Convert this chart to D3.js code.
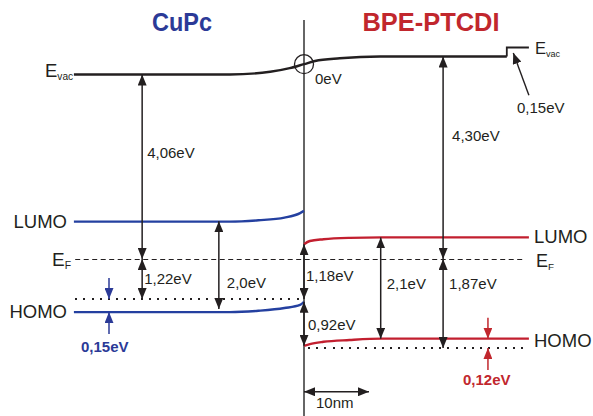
<!DOCTYPE html>
<html>
<head>
<meta charset="utf-8">
<script src="https://cdn.jsdelivr.net/npm/d3@7"></script>
<style>
  body { margin: 0; background: #fff; }
  text { font-family: "Liberation Sans", Arial, sans-serif; fill: #231f20; }
</style>
</head>
<body>
<div id="chart"></div>
<script>
// Energy level alignment at the CuPc / BPE-PTCDI interface
// x: distance from interface (nm), y: schematic energy relative to E_F (eV)

// vacuum level
const evacX = [-35.4, -11.4, -5.2, -2.2, 0, 1.7, 5.5, 11.7, 31.2];
const evacE = [4.10, 4.10, 4.16, 4.24, 4.33, 4.40, 4.46, 4.50, 4.50];
const evacStepX = [31.2, 31.2, 34.6];
const evacStepE = [4.50, 4.70, 4.70];

// CuPc levels (left)
const cupcX = [-35.4, -11.4, -7, -3, -0.6, 0];
const cupcLumo = [0.83, 0.83, 0.86, 0.92, 1.02, 1.07];
const cupcHomo = [-1.18, -1.18, -1.15, -1.09, -1.02, -0.95];

// BPE-PTCDI levels (right)
const bpeX = [0, 0.9, 3, 7, 12, 34.6];
const bpeLumo = [0.33, 0.40, 0.44, 0.47, 0.48, 0.48];
const bpeHomo = [-1.93, -1.89, -1.84, -1.80, -1.77, -1.77];

// reference lines
const fermiE = 0;
const cupcDotE = -0.89;
const bpeDotE = -1.98;

// double arrows with their energy gaps
const gapLabels = ["4,06eV", "1,22eV", "2,0eV", "1,18eV", "0,92eV", "2,1eV", "4,30eV", "1,87eV"];
const gapX = [-24.9, -24.9, -13.1, 0, 0, 11.8, 21.4, 21.4];
const gapTop = [4.10, 0, 0.84, 0.33, -0.95, 0.48, 4.50, 0];
const gapBottom = [0, -0.89, -1.11, -0.89, -1.93, -1.77, 0, -1.98];

// HOMO shifts (band bending)
const shiftLabels = ["0,15eV", "0,12eV"];
const shiftX = [-30.0, 28.3];
const shiftUpper = [-0.89, -1.77];
const shiftLower = [-1.18, -1.98];

const W = 593, H = 416;
const black = "#231f20", blue = "#2b3a97", red = "#c1272d";
const lineBlue = "#2440a0", lineRed = "#c21f2f";

const svg = d3.select("#chart").append("svg")
    .attr("width", W).attr("height", H)
    .style("background-color", "#ffffff");

// scales: 10 nm -> 65 px, 1 eV -> 45 px (schematic)
const x = d3.scaleLinear().domain([0, 10]).range([304, 369]);
const y = d3.scaleLinear().domain([0, 4]).range([259, 79]);

// arrow markers
const defs = svg.append("defs");
[["k", black], ["b", blue], ["r", red]].forEach(([id, col]) => {
    defs.append("marker")
        .attr("id", "ah-" + id)
        .attr("viewBox", "0 0 11 9")
        .attr("refX", 11).attr("refY", 4.5)
        .attr("markerWidth", 11).attr("markerHeight", 9)
        .attr("markerUnits", "userSpaceOnUse")
        .attr("orient", "auto-start-reverse")
        .append("path")
        .attr("d", "M0,0 L11,4.5 L0,9 Z")
        .attr("fill", col);
});

const line = d3.line().x(d => x(d[0])).y(d => y(d[1])).curve(d3.curveMonotoneX);
const straight = d3.line().x(d => x(d[0])).y(d => y(d[1]));

// titles
svg.append("text").attr("x", 182).attr("y", 31)
    .attr("text-anchor", "middle")
    .attr("font-size", 26).attr("font-weight", "bold")
    .attr("textLength", 60).attr("lengthAdjust", "spacingAndGlyphs")
    .style("fill", blue).text("CuPc");
svg.append("text").attr("x", 431).attr("y", 31)
    .attr("text-anchor", "middle")
    .attr("font-size", 26).attr("font-weight", "bold")
    .attr("textLength", 137).attr("lengthAdjust", "spacingAndGlyphs")
    .style("fill", red).text("BPE-PTCDI");

// interface line
svg.append("line")
    .attr("x1", x(0)).attr("x2", x(0))
    .attr("y1", 20).attr("y2", H)
    .attr("stroke", "#333").attr("stroke-width", 1.5);

// Fermi level and HOMO reference lines
svg.append("line")
    .attr("x1", x(-35.2)).attr("x2", x(33.7))
    .attr("y1", y(fermiE) + 0.5).attr("y2", y(fermiE) + 0.5)
    .attr("stroke", black).attr("stroke-width", 1.2)
    .attr("stroke-dasharray", "5,3.5");
svg.append("line")
    .attr("x1", x(-35.2)).attr("x2", x(0))
    .attr("y1", y(cupcDotE)).attr("y2", y(cupcDotE))
    .attr("stroke", black).attr("stroke-width", 2)
    .attr("shape-rendering", "crispEdges")
    .attr("stroke-dasharray", "2,6.2");
svg.append("line")
    .attr("x1", x(0.6)).attr("x2", x(34.3))
    .attr("y1", y(bpeDotE)).attr("y2", y(bpeDotE))
    .attr("stroke", black).attr("stroke-width", 2)
    .attr("shape-rendering", "crispEdges")
    .attr("stroke-dasharray", "2,6.2");

// vacuum level
svg.append("path")
    .attr("d", line(d3.zip(evacX, evacE)))
    .attr("fill", "none").attr("stroke", black).attr("stroke-width", 2.4);
svg.append("path")
    .attr("d", straight(d3.zip(evacStepX, evacStepE)))
    .attr("fill", "none").attr("stroke", black).attr("stroke-width", 1.8);
svg.append("circle")
    .attr("cx", x(0)).attr("cy", y(4.33)).attr("r", 9.5)
    .attr("fill", "none").attr("stroke", black).attr("stroke-width", 1.3);

// molecular levels
[[cupcX, cupcLumo, lineBlue], [cupcX, cupcHomo, lineBlue],
 [bpeX, bpeLumo, lineRed], [bpeX, bpeHomo, lineRed]].forEach(([xs, es, col]) => {
    svg.append("path")
        .attr("d", line(d3.zip(xs, es)))
        .attr("fill", "none").attr("stroke", col).attr("stroke-width", 2.4);
});

// gap arrows
const gapLabelPos = [[5, 2.24], [2, -0.56], [8, -0.64], [2, -0.49], [4, -1.58], [6, -0.67], [9, 2.62], [6, -0.67]];
gapLabels.forEach((lab, i) => {
    svg.append("line")
        .attr("x1", x(gapX[i])).attr("x2", x(gapX[i]))
        .attr("y1", y(gapTop[i])).attr("y2", y(gapBottom[i]))
        .attr("stroke", black).attr("stroke-width", 1.5)
        .attr("marker-start", "url(#ah-k)")
        .attr("marker-end", "url(#ah-k)");
    svg.append("text")
        .attr("x", x(gapX[i]) + gapLabelPos[i][0])
        .attr("y", y(gapLabelPos[i][1]))
        .attr("font-size", 15).text(lab);
});

// HOMO shift arrows
const shiftCols = [["b", blue], ["r", red]];
const shiftLabelPos = [[-28, -2.07], [-25, -2.80]];
shiftLabels.forEach((lab, i) => {
    const xi = x(shiftX[i]);
    svg.append("line")
        .attr("x1", xi).attr("x2", xi)
        .attr("y1", y(shiftUpper[i]) - 21).attr("y2", y(shiftUpper[i]))
        .attr("stroke", shiftCols[i][1]).attr("stroke-width", 1.5)
        .attr("marker-end", "url(#ah-" + shiftCols[i][0] + ")");
    svg.append("line")
        .attr("x1", xi).attr("x2", xi)
        .attr("y1", y(shiftLower[i]) + 22).attr("y2", y(shiftLower[i]))
        .attr("stroke", shiftCols[i][1]).attr("stroke-width", 1.5)
        .attr("marker-end", "url(#ah-" + shiftCols[i][0] + ")");
    svg.append("text")
        .attr("x", xi + shiftLabelPos[i][0])
        .attr("y", y(shiftLabelPos[i][1]))
        .attr("font-size", 15).attr("font-weight", "bold")
        .style("fill", shiftCols[i][1]).text(lab);
});

// vacuum level step annotation
svg.append("line")
    .attr("x1", x(34.6)).attr("y1", y(3.64))
    .attr("x2", x(32.2)).attr("y2", y(4.58))
    .attr("stroke", black).attr("stroke-width", 1.4)
    .attr("marker-end", "url(#ah-k)");
svg.append("text").attr("x", 517).attr("y", 113).attr("font-size", 15).text("0,15eV");
svg.append("text").attr("x", 315).attr("y", 84).attr("font-size", 15).text("0eV");

// 10 nm scale bar
svg.append("line")
    .attr("x1", x(0)).attr("x2", x(10))
    .attr("y1", y(-2.95)).attr("y2", y(-2.95))
    .attr("stroke", black).attr("stroke-width", 1.5)
    .attr("marker-start", "url(#ah-k)")
    .attr("marker-end", "url(#ah-k)");
svg.append("text").attr("x", 316).attr("y", 408).attr("font-size", 15).text("10nm");

// level names
function labelSub(xp, yp, main, sub, size, anchorEnd) {
    const t = svg.append("text").attr("x", xp).attr("y", yp).attr("font-size", size);
    t.append("tspan").text(main);
    t.append("tspan").attr("font-size", size * 0.55).attr("dy", 3).text(sub);
    if (anchorEnd) t.attr("text-anchor", "end");
}
labelSub(45, 77, "E", "vac", 18.5);
labelSub(535, 54, "E", "vac", 16.5);
labelSub(52, 266, "E", "F", 19);
labelSub(536, 267, "E", "F", 18);

svg.append("text").attr("x", 67).attr("y", 228).attr("text-anchor", "end").attr("font-size", 18.5).text("LUMO");
svg.append("text").attr("x", 67).attr("y", 318).attr("text-anchor", "end").attr("font-size", 18.5).text("HOMO");
svg.append("text").attr("x", 534).attr("y", 243).attr("font-size", 18.5).text("LUMO");
svg.append("text").attr("x", 534).attr("y", 347).attr("font-size", 18.5).text("HOMO");
</script>
</body>
</html>
